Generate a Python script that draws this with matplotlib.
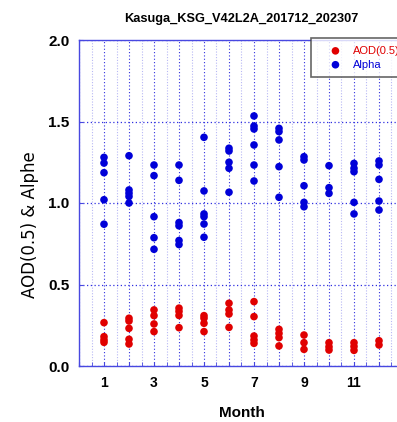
import matplotlib
matplotlib.use("Agg")
import matplotlib.pyplot as plt
from matplotlib.ticker import MultipleLocator, FuncFormatter

plt.rcParams['font.family'] = ['Liberation Sans', 'DejaVu Sans']

title = "Kasuga_KSG_V42L2A_201712_202307"

# Monthly AOD(0.5) values, one list per month (Jan..Dec)
aod = [
    [0.266, 0.18, 0.16, 0.145],
    [0.293, 0.276, 0.231, 0.164, 0.135],
    [0.344, 0.309, 0.258, 0.211],
    [0.355, 0.335, 0.31, 0.235],
    [0.309, 0.293, 0.262, 0.211],
    [0.385, 0.344, 0.319, 0.237],
    [0.395, 0.303, 0.184, 0.16, 0.139],
    [0.225, 0.2, 0.174, 0.123],
    [0.19, 0.143, 0.102],
    [0.143, 0.118, 0.098],
    [0.143, 0.12, 0.096],
    [0.155, 0.129],
]

# Monthly Angstrom exponent values
alpha = [
    [1.28, 1.245, 1.186, 1.02, 0.87],
    [1.29, 1.08, 1.06, 1.04, 1.00],
    [1.233, 1.168, 0.916, 0.787, 0.716],
    [1.233, 1.139, 0.88, 0.86, 0.77, 0.745],
    [1.403, 1.074, 0.933, 0.916, 0.871, 0.79],
    [1.336, 1.319, 1.25, 1.213, 1.066],
    [1.534, 1.472, 1.454, 1.356, 1.233, 1.135],
    [1.458, 1.438, 1.387, 1.223, 1.035],
    [1.284, 1.264, 1.106, 1.004, 0.977],
    [1.229, 1.094, 1.059],
    [1.243, 1.213, 1.192, 1.004, 0.933],
    [1.258, 1.233, 1.145, 1.012, 0.957],
]

months = list(range(1, 13))

red = '#e00000'
blue = '#0000d8'
spine_blue = '#4848e0'

W, H = 397, 422
fig = plt.figure(figsize=(W / 100, H / 100), dpi=100)
ax = fig.add_axes([79 / W, (H - 366) / H, 325 / W, 326 / H])

def flatten(groups):
    xs, ys = [], []
    for m, vals in zip(months, groups):
        xs += [m] * len(vals)
        ys += vals
    return xs, ys

ax_x, ax_y = flatten(aod)
al_x, al_y = flatten(alpha)

ax.scatter(ax_x, ax_y, s=30, color=red, edgecolors='none', label='AOD(0.5)', zorder=3)
ax.scatter(al_x, al_y, s=30, color=blue, edgecolors='none', label='Alpha', zorder=3)

ax.set_xlim(0, 13)
ax.set_ylim(0, 2.0)

ax.xaxis.set_major_locator(MultipleLocator(1))
ax.xaxis.set_minor_locator(MultipleLocator(0.5))
ax.xaxis.set_major_formatter(FuncFormatter(
    lambda v, p: f"{int(round(v))}" if int(round(v)) % 2 == 1 and 1 <= v <= 11 else ""))
ax.yaxis.set_major_locator(MultipleLocator(0.5))
ax.yaxis.set_major_formatter(FuncFormatter(lambda v, p: f"{v:.1f}"))

ax.grid(which='major', axis='x', color='#3030e0', linestyle=(0, (1, 2)), linewidth=0.8)
ax.grid(which='minor', axis='x', color='#b8b8f4', linestyle=(0, (1, 1.5)), linewidth=0.8)
ax.grid(which='major', axis='y', color='#3030e0', linestyle=(0, (1, 2)), linewidth=0.9)
ax.set_axisbelow(True)

ax.tick_params(axis='x', which='both', direction='in', length=3, color=spine_blue, pad=7,
               labelsize=10)
ax.tick_params(axis='y', which='both', direction='in', length=3, color=spine_blue, pad=7,
               labelsize=11)
for lab in ax.get_xticklabels() + ax.get_yticklabels():
    lab.set_fontweight('bold')

for sp in ax.spines.values():
    sp.set_color(spine_blue)
    sp.set_linewidth(1.0)

ax.set_title(title, fontsize=9.2, fontweight='bold', pad=13)
ax.set_xlabel("Month", fontsize=11, fontweight='bold', labelpad=12)
ax.set_ylabel("AOD(0.5) & Alphe", fontsize=12, family=['DejaVu Sans'])
ax.yaxis.set_label_coords(-0.123, 0.4325)

leg = fig.legend(loc='upper left', bbox_to_anchor=(311 / W, 1 - 38 / H), borderaxespad=0,
                 fontsize=8, frameon=True, fancybox=False, shadow=False,
                 handlelength=3.0, handletextpad=0.1, borderpad=0.7, labelspacing=0.35)
leg.get_frame().set_edgecolor('#404040')
leg.get_frame().set_linewidth(1.2)
for txt, c in zip(leg.get_texts(), [red, blue]):
    txt.set_color(c)

fig.savefig("out.png", dpi=100)
